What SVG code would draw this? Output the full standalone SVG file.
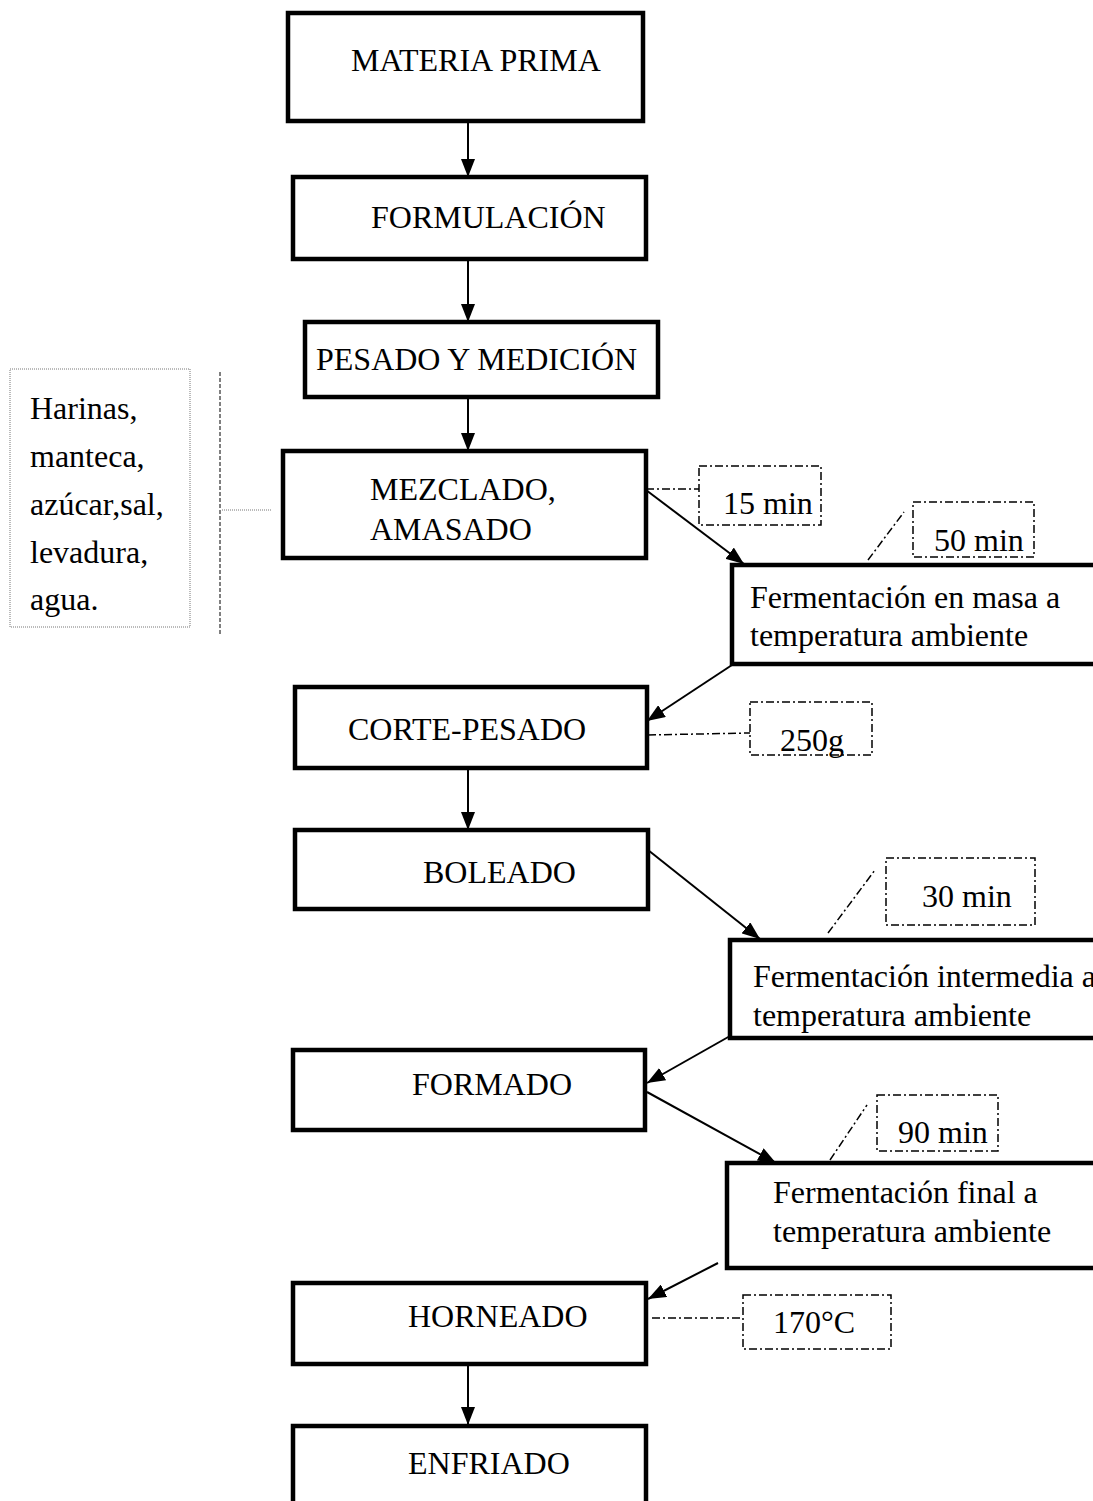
<svg xmlns="http://www.w3.org/2000/svg" width="1093" height="1501" viewBox="0 0 1093 1501">
<style>
text{font-family:"Liberation Serif","Times New Roman",serif;font-size:32px;fill:#000}
.box{fill:#fff;stroke:#000;stroke-width:4.5}
.call{fill:none;stroke:#000;stroke-width:1.5;stroke-dasharray:8 3 2 3}
.lead{fill:none;stroke:#000;stroke-width:1.5;stroke-dasharray:8 3 2 3}
.con{fill:none;stroke:#000;stroke-width:2}
.note{fill:#fff;stroke:#777;stroke-width:1;stroke-dasharray:1 1}
</style>
<defs>
<marker id="ah" viewBox="0 0 18 14" refX="18" refY="7" markerWidth="18" markerHeight="14" markerUnits="userSpaceOnUse" orient="auto"><path d="M0,0 L18,7 L0,14 z" fill="#000"/></marker>
</defs>
<rect width="1093" height="1501" fill="#fff"/>

<g id="connectors">
<line class="con" x1="468" y1="121" x2="468" y2="177" marker-end="url(#ah)"/>
<line class="con" x1="468" y1="259" x2="468" y2="322" marker-end="url(#ah)"/>
<line class="con" x1="468" y1="397" x2="468" y2="451" marker-end="url(#ah)"/>
<line class="con" x1="646" y1="490" x2="744" y2="564" marker-end="url(#ah)"/>
<line class="con" x1="732" y1="665" x2="647" y2="721" marker-end="url(#ah)"/>
<line class="con" x1="468" y1="768" x2="468" y2="830" marker-end="url(#ah)"/>
<line class="con" x1="648" y1="850" x2="760" y2="939" marker-end="url(#ah)"/>
<line class="con" x1="730" y1="1036" x2="647" y2="1083" marker-end="url(#ah)"/>
<line class="con" x1="647" y1="1092" x2="776" y2="1163" marker-end="url(#ah)"/>
<line class="con" x1="718" y1="1263" x2="648" y2="1299" marker-end="url(#ah)"/>
<line class="con" x1="468" y1="1364" x2="468" y2="1425" marker-end="url(#ah)"/>
<line class="lead" x1="646" y1="489" x2="699" y2="489"/>
<line class="lead" x1="868" y1="560" x2="904" y2="512"/>
<line class="lead" x1="648" y1="735" x2="750" y2="733"/>
<line class="lead" x1="828" y1="933" x2="875" y2="870"/>
<line class="lead" x1="830" y1="1160" x2="867" y2="1105"/>
<line class="lead" x1="652" y1="1318" x2="743" y2="1318"/>
<line x1="220" y1="372" x2="220" y2="636" stroke="#000" stroke-width="1" stroke-dasharray="4 2"/>
<line x1="222" y1="510" x2="272" y2="510" stroke="#777" stroke-width="1" stroke-dasharray="1 1"/>
</g>

<g id="n-materia"><rect class="box" x="288" y="13" width="355" height="108"/><text x="351" y="71">MATERIA PRIMA</text></g>
<g id="n-formulacion"><rect class="box" x="293" y="177" width="353" height="82"/><text x="371" y="228">FORMULACIÓN</text></g>
<g id="n-pesado"><rect class="box" x="305" y="322" width="353" height="75"/><text x="316" y="370">PESADO Y MEDICIÓN</text></g>
<g id="n-mezclado"><rect class="box" x="283" y="451" width="363" height="107"/><text x="370" y="500">MEZCLADO,</text><text x="370" y="540">AMASADO</text></g>
<g id="n-ingredientes"><rect class="note" x="10" y="369" width="180" height="258"/>
<text x="30" y="419">Harinas,</text><text x="30" y="467">manteca,</text><text x="30" y="515">azúcar,sal,</text><text x="30" y="563">levadura,</text><text x="30" y="610">agua.</text></g>
<g id="n-ferm1"><rect class="box" x="732" y="565" width="380" height="99"/><text x="750" y="608">Fermentación en masa a</text><text x="750" y="646">temperatura ambiente</text></g>
<g id="n-corte"><rect class="box" x="295" y="687" width="352" height="81"/><text x="348" y="740">CORTE-PESADO</text></g>
<g id="n-boleado"><rect class="box" x="295" y="830" width="353" height="79"/><text x="423" y="883">BOLEADO</text></g>
<g id="n-ferm2"><rect class="box" x="730" y="940" width="380" height="98"/><text x="753" y="987">Fermentación intermedia a</text><text x="753" y="1026">temperatura ambiente</text></g>
<g id="n-formado"><rect class="box" x="293" y="1050" width="352" height="80"/><text x="412" y="1095">FORMADO</text></g>
<g id="n-ferm3"><rect class="box" x="727" y="1163" width="385" height="105"/><text x="773" y="1203">Fermentación final a</text><text x="773" y="1242">temperatura ambiente</text></g>
<g id="n-horneado"><rect class="box" x="293" y="1283" width="353" height="81"/><text x="408" y="1327">HORNEADO</text></g>
<g id="n-enfriado"><rect class="box" x="293" y="1426" width="353" height="100"/><text x="408" y="1474">ENFRIADO</text></g>

<g id="c-15"><rect class="call" x="699" y="466" width="122" height="59"/><text x="723" y="514">15 min</text></g>
<g id="c-50"><rect class="call" x="913" y="502" width="121" height="55"/><text x="934" y="551">50 min</text></g>
<g id="c-250"><rect class="call" x="750" y="702" width="122" height="53"/><text x="780" y="751">250g</text></g>
<g id="c-30"><rect class="call" x="886" y="858" width="149" height="67"/><text x="922" y="907">30 min</text></g>
<g id="c-90"><rect class="call" x="877" y="1095" width="121" height="56"/><text x="898" y="1143">90 min</text></g>
<g id="c-170"><rect class="call" x="743" y="1295" width="148" height="54"/><text x="773" y="1333">170°C</text></g>
</svg>
